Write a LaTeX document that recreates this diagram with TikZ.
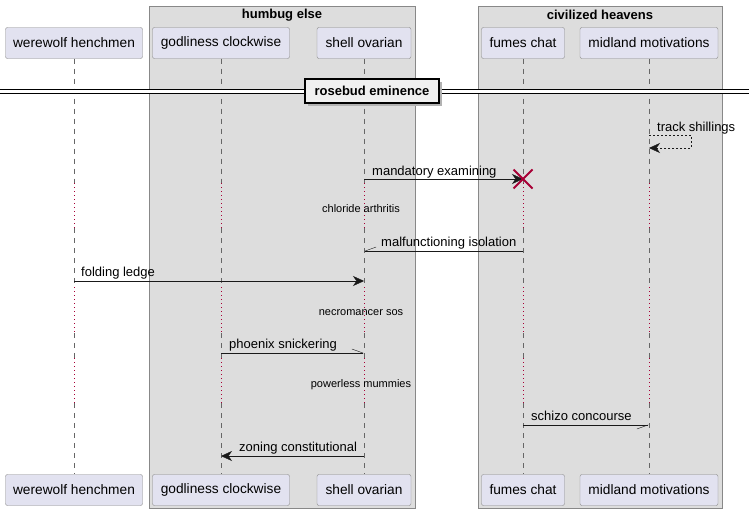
\documentclass[tikz,border=0pt]{standalone}
\usepackage{fontspec}
\setmainfont{Liberation Sans}
\usetikzlibrary{arrows.meta,shapes.misc}
\definecolor{partfill}{HTML}{E2E2F0}
\definecolor{boxfill}{HTML}{DDDDDD}
\definecolor{delayred}{HTML}{A80036}
\definecolor{edgegray}{HTML}{888888}

\begin{document}
\begin{tikzpicture}[x=1pt, y=-1pt, font=\fontsize{13}{15}\selectfont,
		part/.style={draw=edgegray, fill=partfill, rounded corners=2pt, minimum height=31pt, inner sep=0pt, font=\fontsize{13.7}{15}\selectfont},
		grp/.style={draw=edgegray, fill=boxfill},
		life/.style={draw=gray!80!black, dash pattern=on 5pt off 5pt},
		delay/.style={draw=delayred, dash pattern=on 1pt off 3pt},
		msg/.style={black!90, -{Stealth[length=11pt,width=10pt,inset=3.5pt]}},
		half/.style={black!90, -{Straight Barb[harpoon,length=11pt,width=8pt]}},
		halfsw/.style={black!90, -{Straight Barb[harpoon,swap,length=11pt,width=8pt]}},
		lbl/.style={anchor=base west, inner sep=0pt},
		dly/.style={anchor=base, inner sep=0pt, font=\fontsize{11}{13}\selectfont}]
	\useasboundingbox (0,0) rectangle (749,514);
	\fill[white] (0,0) rectangle (749,514);
	% groups
	\draw[grp] (149,6) rectangle (415,508);
	\node[font=\fontsize{13}{15}\selectfont\bfseries] (humbug) at (282,15) {humbug else};
	\draw[grp] (478,6) rectangle (722,508);
	\node[font=\fontsize{13}{15}\selectfont\bfseries] (heavens) at (600,15) {civilized heavens};
	% participants
	\node[part, minimum width=137pt](wh) at (74, 43) {werewolf henchmen};
	\node[part, minimum width=137pt](gc) at (221, 43) {godliness clockwise};
	\node[part, minimum width=94pt](so) at (364, 43) {shell ovarian};
	\node[part, minimum width=83pt](fc) at (523, 43) {fumes chat};
	\node[part, minimum width=138pt](mm) at (649, 43) {midland motivations};
	\node[part, minimum width=137pt](bwh) at (74, 490) {werewolf henchmen};
	\node[part, minimum width=137pt](bgc) at (221, 490) {godliness clockwise};
	\node[part, minimum width=94pt](bso) at (364, 490) {shell ovarian};
	\node[part, minimum width=83pt](bfc) at (523, 490) {fumes chat};
	\node[part, minimum width=138pt](bmm) at (649, 490) {midland motivations};
	% lifelines
	\foreach \p in {wh,gc,so,fc,mm}{
		\draw[life] (\p.south) -- (\p.south |- 0,183);
		\draw[delay] (\p.south |- 0,183) -- (\p.south |- 0,228);
		\draw[life] (\p.south |- 0,228) -- (\p.south |- 0,287);
		\draw[delay] (\p.south |- 0,287) -- (\p.south |- 0,333);
		\draw[life] (\p.south |- 0,333) -- (\p.south |- 0,358);
		\draw[delay] (\p.south |- 0,358) -- (\p.south |- 0,403);
		\draw[life] (\p.south |- 0,403) -- (b\p.north);
	}
	% divider
	\draw[line width=1pt, double, double distance=3pt] (0,91.5) -- (749,91.5);
	\fill[gray!60] (308,82) rectangle (442,106);
	\node[draw, line width=2pt, fill=gray!12, font=\fontsize{13}{15}\selectfont\bfseries, minimum width=134pt, minimum height=24pt](rosebud) at (372,91) {rosebud eminence};
	% messages
	\draw[black!90, dash pattern=on 2pt off 2pt, -{Stealth[length=11pt,width=10pt,inset=3.5pt]}] (mm |- 0,135) -- ++(42,0) |- (mm |- 0,148);
	\node[lbl] (shill) at (657,131) {track shillings};
	\draw[msg] (so |- 0,179) -- (fc |- 0,179);
	\node[lbl] (exam) at (372,175) {mandatory examining};
	\node[cross out, draw=delayred, line width=2pt, minimum size=17pt, inner sep=0pt](kill) at (fc |- 0,179) {};
	\node[dly] (chloride) at (361,212) {chloride arthritis};
	\draw[halfsw] (fc |- 0,251) -- (so |- 0,251);
	\node[lbl] (isol) at (381,246) {malfunctioning isolation};
	\draw[msg] (wh |- 0,281) -- (so |- 0,281);
	\node[lbl] (ledge) at (81,276) {folding ledge};
	\node[dly] (sos) at (361,315) {necromancer sos};
	\draw[half] (gc |- 0,353) -- (so |- 0,353);
	\node[lbl] (snick) at (229,348) {phoenix snickering};
	\node[dly] (mummies) at (361,387) {powerless mummies};
	\draw[halfsw] (fc |- 0,425) -- (mm |- 0,425);
	\node[lbl] (schizo) at (531,420) {schizo concourse};
	\draw[msg] (so |- 0,456) -- (gc |- 0,456);
	\node[lbl] (zoning) at (239,451) {zoning constitutional};
\end{tikzpicture}
\end{document}
